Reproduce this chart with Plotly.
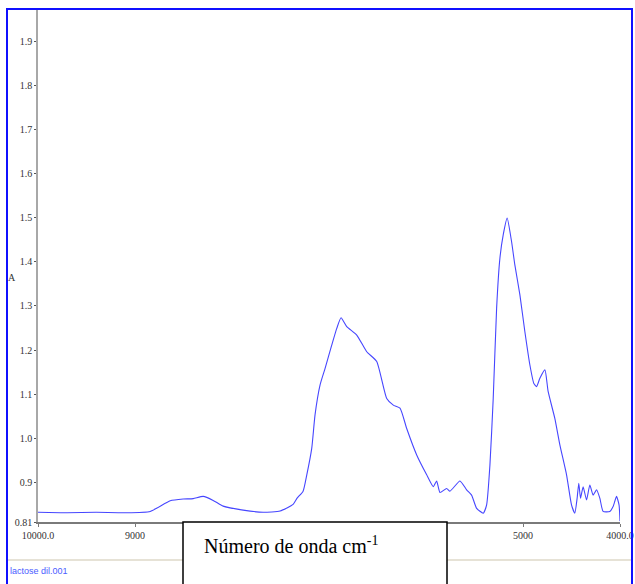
import plotly.graph_objects as go

# NIR absorbance spectrum (wavenumber in cm-1, absorbance A)
wavenumber = [
    10000, 9700, 9400, 9100, 8843, 8637, 8503, 8400, 8297, 8194, 8091, 7885,
    7679, 7504, 7370, 7329, 7267, 7229, 7178, 7144, 7092, 7041, 6972, 6920,
    6876, 6817, 6714, 6611, 6508, 6405, 6337, 6268, 6199, 6096, 5993, 5925,
    5890, 5856, 5787, 5753, 5650, 5581, 5530, 5478, 5410, 5375, 5341, 5307,
    5272, 5238, 5204, 5163, 5118, 5084, 5032, 4981, 4929, 4888, 4860, 4826,
    4774, 4741, 4672, 4620, 4551, 4500, 4466, 4442, 4425, 4407, 4380, 4345,
    4311, 4277, 4242, 4208, 4174, 4105, 4071, 4036, 4010, 4000,
]
absorbance = [
    0.832, 0.831, 0.832, 0.831, 0.834, 0.858, 0.862, 0.863, 0.868, 0.859, 0.846, 0.837,
    0.832, 0.835, 0.850, 0.864, 0.880, 0.917, 0.977, 1.053, 1.121, 1.158, 1.211, 1.249,
    1.273, 1.253, 1.234, 1.196, 1.174, 1.090, 1.075, 1.068, 1.022, 0.962, 0.917, 0.890,
    0.903, 0.877, 0.886, 0.880, 0.903, 0.883, 0.871, 0.841, 0.830, 0.849, 0.939, 1.090,
    1.295, 1.408, 1.461, 1.499, 1.446, 1.393, 1.325, 1.242, 1.166, 1.124, 1.117, 1.136,
    1.155, 1.106, 1.045, 0.985, 0.917, 0.849, 0.830, 0.864, 0.898, 0.864, 0.890, 0.860,
    0.894, 0.871, 0.883, 0.864, 0.834, 0.834, 0.845, 0.868, 0.849, 0.812,
]

y_ticks = [0.81, 0.9, 1.0, 1.1, 1.2, 1.3, 1.4, 1.5, 1.6, 1.7, 1.8, 1.9]
y_labels = ["0.81", "0.9", "1.0", "1.1", "1.2", "1.3", "1.4", "1.5", "1.6", "1.7", "1.8", "1.9"]
x_ticks = [10000, 9000, 5000, 4000]
x_labels = ["10000.0", "9000", "5000", "4000.0"]

W, H = 635, 584
ML, MR, MT, MB = 38, 15, 10, 62
PW, PH = W - ML - MR, H - MT - MB


def px(x):
    return (x - ML) / PW


def py(y):
    return (H - MB - y) / PH


fig = go.Figure()
fig.add_trace(go.Scatter(
    x=wavenumber, y=absorbance, mode="lines",
    line=dict(color="#4646ff", width=1.1, shape="spline", smoothing=0.5),
    hoverinfo="skip", showlegend=False,
))

tick_font = dict(family="Liberation Serif, Times New Roman, serif", size=10, color="#333333")

fig.update_layout(
    width=W, height=H,
    margin=dict(l=ML, r=MR, t=MT, b=MB),
    paper_bgcolor="white", plot_bgcolor="white",
    xaxis=dict(
        range=[10000, 4000], tickvals=x_ticks, ticktext=x_labels,
        showgrid=False, zeroline=False, automargin=False,
        showline=True, linecolor="#7a7a7a", linewidth=2,
        ticks="outside", ticklen=3, tickcolor="#7a7a7a", tickwidth=1,
        tickfont=tick_font,
    ),
    yaxis=dict(
        range=[0.81, 0.81 + PH / 441], tickvals=y_ticks, ticktext=y_labels,
        showgrid=False, zeroline=False, automargin=False,
        showline=True, linecolor="#a8a8a8", linewidth=1.5,
        ticks="outside", ticklen=2, tickcolor="#555555", tickwidth=1,
        tickfont=tick_font,
    ),
    shapes=[
        # window frame
        dict(type="rect", xref="paper", yref="paper",
             x0=px(7), x1=px(632), y0=py(600), y1=py(9),
             line=dict(color="#1010ff", width=2), fillcolor="rgba(0,0,0,0)",
             layer="above"),
        # status bar separator
        dict(type="line", xref="paper", yref="paper",
             x0=px(8), x1=px(631), y0=py(560), y1=py(560),
             line=dict(color="#e6e2d6", width=2), layer="above"),
        # axis title box
        dict(type="rect", xref="paper", yref="paper",
             x0=px(183), x1=px(447), y0=py(600), y1=py(522),
             line=dict(color="black", width=1.5), fillcolor="white",
             layer="above"),
    ],
    annotations=[
        dict(text="Número de onda cm<sup>-1</sup>", xref="paper", yref="paper",
             x=px(202), y=py(545), xanchor="left", yanchor="middle",
             showarrow=False,
             font=dict(family="Liberation Serif, Times New Roman, serif", size=20, color="black")),
        dict(text="A", xref="paper", yref="paper",
             x=px(12), y=py(277), xanchor="center", yanchor="middle",
             showarrow=False,
             font=dict(family="Liberation Serif, Times New Roman, serif", size=10, color="#333333")),
        dict(text="lactose dil.001", xref="paper", yref="paper",
             x=px(8), y=py(571), xanchor="left", yanchor="middle",
             showarrow=False,
             font=dict(family="Liberation Sans Narrow, Liberation Sans, Arial, sans-serif", size=9, color="#4a5cff")),
    ],
)

fig.write_html("out.html")
